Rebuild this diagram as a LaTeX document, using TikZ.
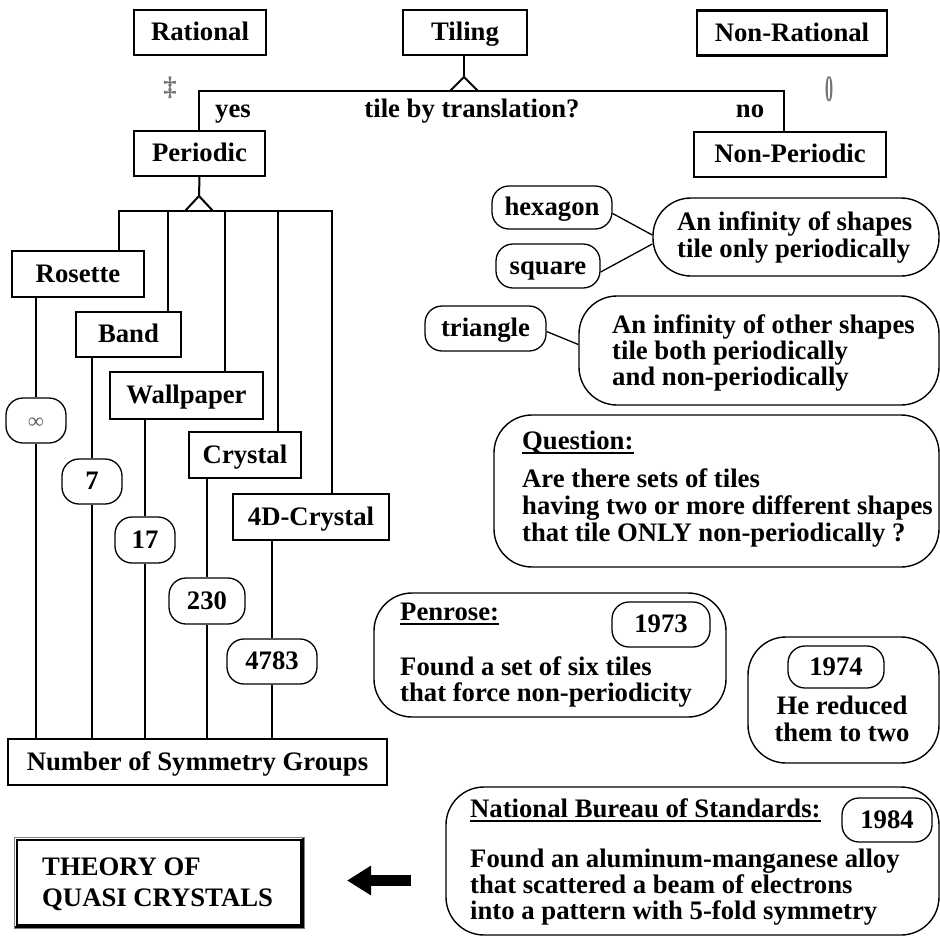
\documentclass[tikz,border=0pt]{standalone}
\usepackage{fontspec}
\setmainfont{Liberation Serif}
\usetikzlibrary{arrows.meta}

\begin{document}
\begin{tikzpicture}[x=1pt,y=-1pt,
  every node/.style={font=\bfseries\fontsize{26.7}{27}\selectfont, inner sep=0pt},
  sqbox/.style={draw, line width=2.2pt, rectangle, minimum height=45pt, text height=18pt, text depth=2pt},
  pill/.style={draw, line width=1.3pt, rounded corners=17pt, minimum height=45pt, text height=18pt, text depth=2pt},
  cloud/.style={draw, line width=1.4pt, rounded corners=38pt},
  wire/.style={line width=2pt},
  lbl/.style={anchor=base west},
  ctr/.style={anchor=base},
  faint/.style={text=black!55},
  uline/.style={line width=1.3pt},
]
\useasboundingbox (0,0) rectangle (940,938);

% ---------- top level ----------
\node[sqbox, minimum width=132pt] (rational) at (200,32.5) {Rational};
\node[sqbox, minimum width=124pt] (tiling) at (465,32.5) {Tiling};
\node[sqbox, minimum width=190pt] (nonrational) at (792,33) {Non-Rational};
\node[sqbox, minimum width=131pt] (periodic) at (199.5,153.5) {Periodic};
\node[sqbox, minimum width=192pt] (nonperiodic) at (790,154.5) {Non-Periodic};

\node[faint] (ratmark) at (170,88) {‡};
\node[faint] (nonratmark) at (829,89) {\scalebox{0.6}[1.4]{0}};

% fork below Tiling
\coordinate (tapex) at (464,77);
\coordinate (tleft) at (450,91);
\coordinate (tright) at (478,91);
\coordinate (yesend) at (199,91);
\coordinate (noend) at (784,91);
\draw[wire] (tiling.south -| tapex) -- (tapex);
\draw[wire] (tleft) -- (tapex) -- (tright);
\draw[wire] (periodic.north -| yesend) -- (yesend) -- (noend) -- (noend |- nonperiodic.north);

\node[ctr] (yes) at (233,117) {yes};
\node[ctr] (question1) at (472,117) {tile by translation?};
\node[ctr] (no) at (750,117) {no};

% ---------- periodic branch ----------
\node[sqbox, minimum width=132pt, minimum height=46pt] (rosette) at (78,274) {Rosette};
\node[sqbox, minimum width=105pt] (band) at (128.5,334.5) {Band};
\node[sqbox, minimum width=153pt, minimum height=47pt] (wallpaper) at (186.5,395.5) {Wallpaper};
\node[sqbox, minimum width=112pt, minimum height=46pt] (crystal) at (245,455) {Crystal};
\node[sqbox, minimum width=156pt, minimum height=46pt] (crystal4) at (311,517) {4D-Crystal};
\node[sqbox, minimum width=379pt, minimum height=46pt] (number) at (197.5,762) {Number of Symmetry Groups};

\coordinate (papex) at (199,196);
\coordinate (pleft) at (185,211);
\coordinate (pright) at (213,211);
\coordinate (dr) at (119,211);
\coordinate (db) at (168,211);
\coordinate (dw) at (225,211);
\coordinate (dc) at (278,211);
\coordinate (dd) at (332,211);
\draw[wire] (periodic.south) -- (papex);
\draw[wire] (pleft) -- (papex) -- (pright);
\draw[wire] (dr |- rosette.north) -- (dr) -- (dd) -- (dd |- crystal4.north);
\draw[wire] (db) -- (db |- band.north);
\draw[wire] (dw) -- (dw |- wallpaper.north);
\draw[wire] (dc) -- (dc |- crystal.north);

% counts
\node[pill, minimum width=60pt] (ninf) at (36,420.5) {\textcolor{black!60}{\fontsize{22}{22}\selectfont ∞}};
\node[pill, minimum width=60pt] (nseven) at (92,481.5) {7};
\node[pill, minimum width=60pt, minimum height=46pt] (nseventeen) at (145,540) {17};
\node[pill, minimum width=76pt, minimum height=46pt] (nthree) at (207,601) {230};
\node[pill, minimum width=90pt] (nfour) at (272,661.5) {4783};

\draw[wire] (ninf.north |- rosette.south) -- (ninf.north);
\draw[wire] (ninf.south) -- (ninf.south |- number.north);
\draw[wire] (nseven.north |- band.south) -- (nseven.north);
\draw[wire] (nseven.south) -- (nseven.south |- number.north);
\draw[wire] (nseventeen.north |- wallpaper.south) -- (nseventeen.north);
\draw[wire] (nseventeen.south) -- (nseventeen.south |- number.north);
\draw[wire] (nthree.north |- crystal.south) -- (nthree.north);
\draw[wire] (nthree.south) -- (nthree.south |- number.north);
\draw[wire] (nfour.north |- crystal4.south) -- (nfour.north);
\draw[wire] (nfour.south) -- (nfour.south |- number.north);

% ---------- shapes ----------
\node[pill, minimum width=120pt, minimum height=43pt] (hexagon) at (552,207.5) {hexagon};
\node[pill, minimum width=104pt, minimum height=44pt] (square) at (548,266) {square};
\node[pill, minimum width=121pt] (triangle) at (485.5,328.5) {triangle};

\node[cloud, minimum width=286pt, minimum height=78pt] (onlyper) at (796,237) {};
\node[lbl] (op1) at (677,230) {An infinity of shapes};
\node[lbl] (op2) at (677,257) {tile only periodically};

\node[cloud, minimum width=360pt, minimum height=109pt] (bothper) at (759,350.5) {};
\node[lbl] (bp1) at (612,333) {An infinity of other shapes};
\node[lbl] (bp2) at (612,359) {tile both periodically};
\node[lbl] (bp3) at (612,385) {and non-periodically};

\draw[line width=1.3pt] ([yshift=-6pt]hexagon.east) -- ([yshift=2pt]onlyper.west);
\draw[line width=1.3pt] ([yshift=-6pt]square.east) -- ([yshift=-7pt]onlyper.west);
\draw[line width=1.3pt] ([yshift=-3pt]triangle.east) -- ([yshift=6pt]bothper.west);

% ---------- question ----------
\node[cloud, minimum width=445pt, minimum height=152pt] (question) at (716.5,491) {};
\node[lbl] (qt) at (522,449) {Question:};
\draw[uline] ([yshift=-4pt]qt.base west) -- ([yshift=-4pt]qt.base east);
\node[lbl] (q1) at (522,487) {Are there sets of tiles};
\node[lbl] (q2) at (522,514) {having two or more different shapes};
\node[lbl] (q3) at (522,541) {that tile ONLY non-periodically ?};

% ---------- Penrose ----------
\node[cloud, minimum width=352pt, minimum height=124pt] (penrose) at (550,655) {};
\node[lbl] (pt) at (400,620) {Penrose:};
\draw[uline] ([yshift=-4pt]pt.base west) -- ([yshift=-4pt]pt.base east);
\node[pill, minimum width=98pt, minimum height=45pt] (y1973) at (661,624.5) {1973};
\node[lbl] (p1) at (400,675) {Found a set of six tiles};
\node[lbl] (p2) at (400,701) {that force non-periodicity};

\node[cloud, minimum width=191pt, minimum height=126pt] (reduced) at (843.5,700) {};
\node[pill, minimum width=96pt, minimum height=42pt] (y1974) at (836,667) {1974};
\node[ctr] (r1) at (842,714) {He reduced};
\node[ctr] (r2) at (842,741) {them to two};

% ---------- NBS ----------
\node[cloud, minimum width=493pt, minimum height=148pt] (nbs) at (692.5,861) {};
\node[lbl] (nt) at (470,817) {National Bureau of Standards:};
\draw[uline] ([yshift=-4pt]nt.base west) -- ([yshift=-4pt]nt.base east);
\node[pill, minimum width=90pt, minimum height=44pt] (y1984) at (887,820) {1984};
\node[lbl] (n1) at (470,867) {Found an aluminum-manganese alloy};
\node[lbl] (n2) at (470,893) {that scattered a beam of electrons};
\node[lbl] (n3) at (470,919) {into a pattern with 5-fold symmetry};

% ---------- theory ----------
\draw[black!50, line width=0.8pt] (14,837) rectangle (304,928);
\node[draw, line width=1.4pt, minimum width=284pt, minimum height=85pt] (theory) at (159,882.5) {};
\draw[line width=2.6pt] (303,838) -- (303,927) -- (15,927);
\node[lbl] (th1) at (42,875) {THEORY OF};
\node[lbl] (th2) at (42,906) {QUASI CRYSTALS};

\coordinate (arrtail) at (411,880.5);
\coordinate (arrtip) at (347,880.5);
\draw[line width=11pt, -{Triangle[length=24pt,width=28pt]}] (arrtail) -- (arrtip);

\end{tikzpicture}
\end{document}
